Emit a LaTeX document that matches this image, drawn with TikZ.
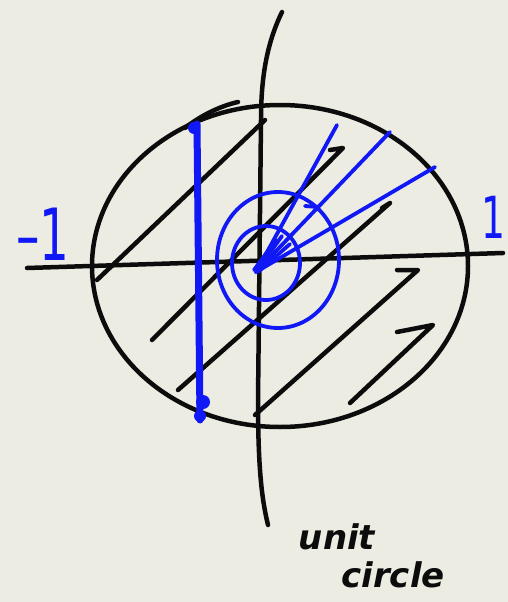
\documentclass[tikz,border=0pt]{standalone}
\usepackage{fontspec}
\setmainfont{DejaVu Sans}
\usepackage{xcolor}
\usepackage{tikz}
\definecolor{paper}{RGB}{236,236,226}
\definecolor{pen}{RGB}{16,24,245}
\definecolor{ink}{RGB}{12,12,12}

\begin{document}
\begin{tikzpicture}[x=1pt, y=-1pt,
    inkline/.style={draw=ink, line width=4.5pt, line cap=round, line join=round},
    penline/.style={draw=pen, line width=3.8pt, line cap=round, line join=round},
    penlabel/.style={text=pen, inner sep=0pt},
    inklabel/.style={text=ink, inner sep=0pt, font=\fontsize{34}{34}\selectfont\bfseries\itshape}]
    \fill[paper] (0,0) rectangle (508,602);
    \useasboundingbox (0,0) rectangle (508,602);

    \draw[inkline] (27,268) -- (503,253);
    \draw[inkline] (282,12) .. controls (266,45) and (261,80) .. (261,120)
        -- (258,400) .. controls (258,470) and (262,500) .. (268,525);
    \draw[inkline] (280,266) ellipse [x radius=188, y radius=161];
    \draw[inkline] (185,128) .. controls (200,116) and (220,106) .. (238,102);

    \draw[inkline] (97,280) -- (265,120);
    \draw[inkline] (152,340) -- (343,148) -- (330,150);
    \draw[inkline] (178,390) -- (390,203) -- (382,208);
    \draw[inkline] (397,270) -- (418,270) -- (255,415);
    \draw[inkline] (397,332) -- (433,325) -- (350,403);

    \coordinate (origin) at (256,272);
    \draw[penline] (266,263) ellipse [x radius=34, y radius=37];
    \draw[penline] (278,260) ellipse [x radius=61, y radius=68];
    \draw[penline] (origin) -- (337,125);
    \draw[penline] (origin) -- (390,132);
    \draw[penline] (origin) -- (435,167);
    \draw[penline] (origin) -- (282,236);
    \draw[penline] (254,270) -- (276,240);
    \draw[penline] (258,272) -- (290,244);
    \draw[penline] (305,206) -- (318,207);

    \draw[pen, line width=7pt, line cap=round] (197,124) -- (200,420);
    \fill[pen] (194,128) circle (6);
    \fill[pen] (203,402) circle (7);
    \fill[pen] (200,416) circle (6);

    \node[penlabel, font=\fontsize{72}{72}\selectfont] (minusone) at (43,234) {\scalebox{0.65}[1]{–1}};
    \node[penlabel, font=\fontsize{58}{58}\selectfont] (plusone) at (493,217) {\scalebox{0.65}[1]{1}};
    \node[inklabel] (unitword) at (337,537) {unit};
    \node[inklabel] (circleword) at (393,575) {circle};
\end{tikzpicture}
\end{document}
